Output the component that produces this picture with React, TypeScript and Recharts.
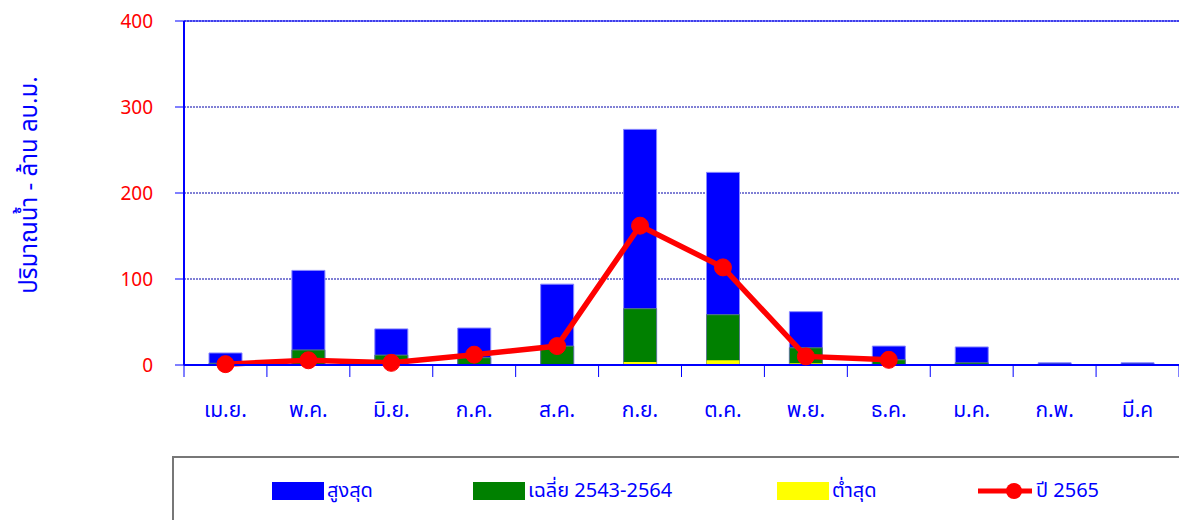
import { ComposedChart, Bar, Line, XAxis, YAxis, CartesianGrid, Legend, ReferenceLine, Label } from "recharts";

const MONTHS = ["เม.ย.", "พ.ค.", "มิ.ย.", "ก.ค.", "ส.ค.", "ก.ย.", "ต.ค.", "พ.ย.", "ธ.ค.", "ม.ค.", "ก.พ.", "มี.ค"];
const MAX_VALUES = [14, 110, 42, 43, 94, 274, 224, 62, 22, 21, 2.5, 2.5];
const AVG_VALUES = [2, 17.5, 11.5, 8.5, 22, 65.5, 58.5, 20, 6, 2.5, 1, 1];
const MIN_VALUES = [0.3, 0.5, 0.5, 0.5, 0.5, 3.5, 5.5, 2, 0.5, 0.3, 0.1, 0.1];
const Y2565_VALUES = [1, 5.5, 2.5, 12, 22, 162, 113.5, 10, 6, null, null, null];
const Y_TICKS = [0, 100, 200, 300, 400];

const FONT = "Tahoma, 'Noto Sans Thai', 'Noto Sans', 'DejaVu Sans', sans-serif";
const BLUE = "#0000ff";
const W = 1179;
const H = 520;
const PLOT_LEFT = 184;
const BAND = (W - PLOT_LEFT) / MONTHS.length;

const data = MONTHS.map((m, i) => ({
  month: m,
  max: MAX_VALUES[i],
  avg: AVG_VALUES[i],
  min: MIN_VALUES[i],
  y2565: Y2565_VALUES[i],
}));

function MonthTick(props: any) {
  const { x, y, payload, index } = props;
  const half = BAND / 2;
  return (
    <g>
      <line x1={x - half} x2={x - half} y1={y} y2={y + 12} stroke={BLUE} strokeWidth={1} />
      {index === MONTHS.length - 1 && <line x1={x + half} x2={x + half} y1={y} y2={y + 12} stroke={BLUE} strokeWidth={1} />}
      <text x={x} y={y + 52} textAnchor="middle" fill={BLUE} fontSize={21} fontFamily={FONT}>
        {payload.value}
      </text>
    </g>
  );
}

function LegendBox() {
  const item = (label: string, swatch: any) => (
    <div style={{ display: "flex", alignItems: "center" }}>
      {swatch}
      <span style={{ marginLeft: 3 }}>{label}</span>
    </div>
  );
  const rect = (c: string) => <div style={{ width: 52, height: 18, background: c }} />;
  return (
    <div style={{ position: "relative", height: "100%", fontFamily: FONT, fontSize: 20, color: BLUE }}>
      <div style={{ position: "absolute", left: 98, top: 18 }}>{item("สูงสุด", rect("#0000ff"))}</div>
      <div style={{ position: "absolute", left: 299, top: 18 }}>{item("เฉลี่ย 2543-2564", rect("#008000"))}</div>
      <div style={{ position: "absolute", left: 603, top: 18 }}>{item("ต่ำสุด", rect("#ffff00"))}</div>
      <div style={{ position: "absolute", left: 803, top: 18 }}>
        {item(
          "ปี 2565",
          <svg width={56} height={20}>
            <line x1={1} x2={55} y1={10} y2={10} stroke="#ff0000" strokeWidth={5} />
            <circle cx={37} cy={10} r={8} fill="#ff0000" />
          </svg>
        )}
      </div>
    </div>
  );
}

export default function App() {
  return (
    <div style={{ position: "absolute", left: 0, top: 0, width: W, height: H, background: "#fff" }}>
      <ComposedChart width={W} height={H} data={data} margin={{ top: 21, right: 0, left: 0, bottom: 25 }} barGap={-33} barSize={33}>
        <CartesianGrid vertical={false} stroke="#0000aa" strokeDasharray="2 1" />
        <ReferenceLine y={400} stroke={BLUE} strokeWidth={1} />
        <XAxis
          dataKey="month"
          tick={<MonthTick />}
          tickLine={false}
          tickSize={0}
          tickMargin={0}
          axisLine={{ stroke: BLUE, strokeWidth: 2 }}
          height={60}
          interval={0}
        />
        <YAxis
          width={PLOT_LEFT}
          domain={[0, 400]}
          ticks={Y_TICKS}
          tickSize={9}
          tickMargin={22}
          tickLine={{ stroke: BLUE }}
          axisLine={{ stroke: BLUE, strokeWidth: 2 }}
          tick={{ fill: "#ff0000", fontSize: 19, fontFamily: FONT }}
        >
          <Label
            content={(p: any) => {
              const vb = p.viewBox;
              const cy = vb.y + vb.height / 2 - 8;
              return (
                <text x={30} y={cy} transform={`rotate(-90 30 ${cy})`} textAnchor="middle" dominantBaseline="central" fill={BLUE} fontSize={24} fontFamily={FONT}>
                  ปริมาณน้ำ - ล้าน ลบ.ม.
                </text>
              );
            }}
          />
        </YAxis>
        <Bar dataKey="max" name="สูงสุด" fill="#0000ff" stroke="#8888ff" strokeWidth={1} isAnimationActive={false} />
        <Bar dataKey="avg" name="เฉลี่ย 2543-2564" fill="#008000" stroke="#5a7a8a" strokeWidth={1} isAnimationActive={false} />
        <Bar dataKey="min" name="ต่ำสุด" fill="#ffff00" isAnimationActive={false} />
        <Line
          dataKey="y2565"
          name="ปี 2565"
          stroke="#ff0000"
          strokeWidth={5.5}
          dot={{ r: 8.5, fill: "#ff0000", stroke: "#ff0000", strokeWidth: 1 }}
          activeDot={false}
          connectNulls={false}
          isAnimationActive={false}
        />
        <Legend
          content={<LegendBox />}
          wrapperStyle={{ position: "absolute", left: 172, top: 456, width: 1020, height: 70, border: "2px solid #777", boxSizing: "border-box" }}
        />
      </ComposedChart>
    </div>
  );
}
